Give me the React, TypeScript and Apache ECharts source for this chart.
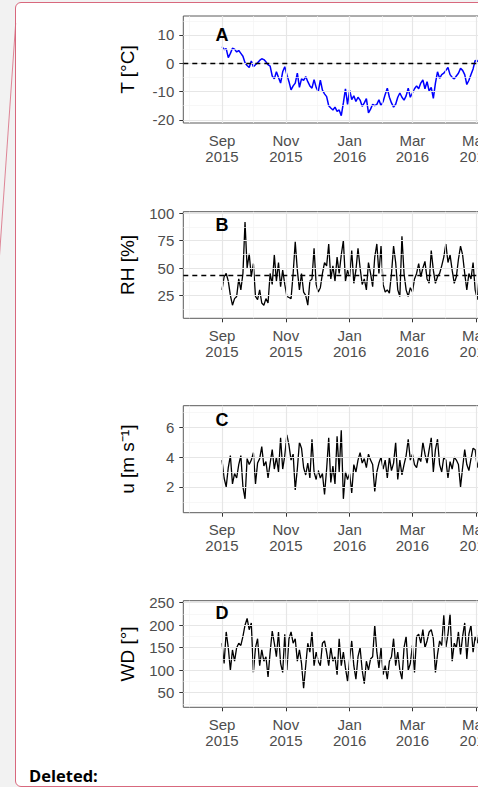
import React, { useEffect, useRef } from 'react';
import * as echarts from 'echarts';

// ---------- data (daily series sampled every 2 days from 1 Sep 2015) ----------
const START = Date.UTC(2015, 8, 1);
const STEP_DAYS = 2;
const DAY = 86400000;

const X_MIN = Date.UTC(2015, 6, 26);
const X_MAX = Date.UTC(2016, 5, 15);
const MAJOR_X = [Date.UTC(2015, 8, 1), Date.UTC(2015, 10, 1), Date.UTC(2016, 0, 1), Date.UTC(2016, 2, 1), Date.UTC(2016, 4, 1)];
const MINOR_X = [Date.UTC(2015, 7, 1), Date.UTC(2015, 9, 1), Date.UTC(2015, 11, 1), Date.UTC(2016, 1, 1), Date.UTC(2016, 3, 1), Date.UTC(2016, 5, 1)];
const MONTHS = ['Jan', 'Feb', 'Mar', 'Apr', 'May', 'Jun', 'Jul', 'Aug', 'Sep', 'Oct', 'Nov', 'Dec'];

const TEMP = [
  5.9, 4.8, 5.2, 2.0, 3.5, 5.3, 5.0, 4.0, 4.5, 3.5,
  2.5, 0.2, -0.8, -1.5, 0.8, -1.2, -0.5, 0.2, 1.0, 1.6,
  1.3, 0.5, -0.5, -1.0, -4.5, -5.5, -3.0, -5.0, -7.0, -3.0,
  -1.2, -4.0, -6.5, -9.4, -8.0, -7.0, -3.5, -8.5, -5.5, -6.0,
  -4.7, -6.5, -8.0, -8.8, -5.8, -8.5, -10.0, -6.0, -9.5, -10.8,
  -11.8, -15.0, -15.8, -16.5, -15.5, -17.0, -16.5, -18.5, -14.0, -9.0,
  -14.5, -9.5, -12.8, -11.5, -13.5, -12.0, -13.0, -15.2, -14.0, -12.5,
  -17.5, -16.2, -14.5, -15.0, -14.5, -12.9, -15.0, -13.5, -11.0, -8.8,
  -12.0, -14.0, -15.5, -14.5, -12.0, -10.5, -12.0, -13.0, -11.5, -8.8,
  -12.0, -10.5, -9.0, -8.0, -9.0, -7.0, -5.9, -9.0, -6.5, -9.8,
  -8.5, -12.4, -7.0, -3.0, -5.3, -4.0, -3.5, -2.5, -1.5, -4.0,
  -5.0, -5.5, -4.5, -3.5, -1.8, -2.5, -4.0, -7.5, -6.0, -4.0,
  -2.0, 1.0, 0.6, 1.5, 2.8, 4.7, 6.5, 8.0, 7.5,
];

const RH = [
  30, 42, 45, 38, 25, 16, 22, 24, 40, 30,
  45, 92, 50, 63, 42, 54, 24, 21, 30, 18,
  16, 22, 18, 45, 35, 62, 38, 55, 33, 48,
  35, 24, 23, 22, 45, 74, 48, 30, 45, 28,
  25, 16, 38, 40, 68, 35, 28, 32, 45, 55,
  52, 72, 40, 52, 38, 60, 45, 62, 75, 38,
  48, 42, 66, 36, 48, 68, 50, 35, 40, 30,
  55, 45, 33, 60, 72, 45, 70, 35, 28, 30,
  27, 45, 70, 55, 30, 24, 79, 45, 30, 24,
  32, 28, 40, 45, 54, 42, 50, 56, 40, 36,
  66, 48, 36, 42, 45, 52, 60, 72, 55, 62,
  48, 36, 42, 58, 70, 62, 45, 30, 45, 40,
  55, 30, 21, 45, 52, 32, 40, 28, 35,
];

const WIND = [
  3.8, 2.6, 2.0, 3.3, 4.1, 2.2, 2.9, 2.6, 3.5, 4.1,
  2.0, 1.2, 3.9, 3.5, 3.8, 4.3, 2.2, 3.6, 3.9, 4.7,
  3.4, 3.7, 2.6, 3.6, 4.5, 3.2, 4.0, 3.0, 5.3, 3.2,
  4.1, 5.5, 4.8, 3.8, 4.2, 1.8, 3.2, 5.0, 4.6, 3.3,
  2.8, 3.6, 2.6, 5.2, 3.0, 2.5, 3.1, 2.6, 2.9, 1.5,
  3.2, 5.3, 2.3, 3.4, 2.2, 5.4, 3.0, 5.8, 1.2, 3.0,
  2.5, 2.9, 1.6, 3.5, 3.0, 3.8, 4.3, 3.6, 3.9, 3.3,
  4.2, 3.8, 3.5, 1.7, 3.0, 3.6, 4.0, 3.2, 3.8, 2.6,
  4.0, 3.1, 3.6, 5.0, 2.5, 3.8, 2.8, 3.5, 4.1, 5.2,
  3.8, 4.2, 3.5, 3.3, 4.0, 3.7, 5.0, 4.2, 3.6, 4.5,
  5.3, 3.0, 4.5, 5.2, 3.5, 3.0, 4.0, 3.8, 2.6, 3.7,
  3.2, 4.0, 3.8, 3.5, 2.0, 3.3, 4.5, 3.5, 3.1, 3.9,
  4.6, 4.5, 3.3, 3.9, 3.0, 3.6, 3.2, 4.0, 3.4,
];

const WDIR = [
  160, 115, 185, 150, 100, 145, 120, 150, 160, 155,
  175, 200, 215, 190, 205, 95, 150, 170, 110, 145,
  120, 130, 85, 140, 187, 160, 130, 185, 115, 95,
  180, 100, 170, 185, 160, 170, 120, 145, 115, 60,
  110, 160, 140, 185, 110, 140, 120, 110, 160, 165,
  140, 110, 150, 120, 130, 90, 170, 110, 140, 105,
  75, 125, 165, 110, 80, 130, 150, 100, 70, 120,
  100, 125, 130, 200, 140, 105, 150, 90, 110, 80,
  120, 130, 170, 110, 140, 100, 80, 150, 175, 100,
  115, 155, 95, 175, 180, 160, 190, 150, 165, 185,
  190, 170, 95, 135, 165, 155, 222, 150, 180, 225,
  120, 160, 150, 185, 135, 175, 205, 125, 180, 200,
  140, 175, 160, 190, 135, 170, 150, 180, 140,
];

const T_TICKS = [-20, -10, 0, 10];
const T_MINOR = [-15, -5, 5, 15];
const RH_TICKS = [25, 50, 75, 100];
const RH_MINOR = [12.5, 37.5, 62.5, 87.5];
const U_TICKS = [2, 4, 6];
const U_MINOR = [1, 3, 5, 7];
const WD_TICKS = [50, 100, 150, 200, 250];
const WD_MINOR = [25, 75, 125, 175, 225];

const T_REF = 0;
const RH_REF = 43.5;
const PANEL_LETTERS = ['A', 'B', 'C', 'D'];
const PANEL_LABEL_Y = [10, 89, 6.5, 228];

const FONT = '"Liberation Sans", Arial, sans-serif';

const PANELS = [
  { top: 16, height: 107, min: -21.1, max: 16.7, ticks: T_TICKS, minor: T_MINOR, values: TEMP, color: '#0000ff', lw: 1.5, name: 'T [°C]', ref: T_REF },
  { top: 211.7, height: 106.6, min: 4, max: 101.5, ticks: RH_TICKS, minor: RH_MINOR, values: RH, color: '#000000', lw: 1.3, name: 'RH [%]', ref: RH_REF },
  { top: 405.7, height: 107, min: 0.27, max: 7.45, ticks: U_TICKS, minor: U_MINOR, values: WIND, color: '#000000', lw: 1.3, name: 'u [m s⁻¹]', ref: null },
  { top: 600.7, height: 106.6, min: 17.6, max: 254.4, ticks: WD_TICKS, minor: WD_MINOR, values: WDIR, color: '#000000', lw: 1.3, name: 'WD [°]', ref: null },
];

function buildOption() {
  const grid: any[] = [];
  const xAxis: any[] = [];
  const yAxis: any[] = [];
  const series: any[] = [];

  PANELS.forEach((p, i) => {
    grid.push({
      left: 183.3, top: p.top, width: 340, height: p.height,
      show: true, backgroundColor: '#ffffff', borderColor: '#5a5a5a', borderWidth: 1,
    });
    xAxis.push({
      type: 'value', gridIndex: i, min: X_MIN, max: X_MAX, scale: true,
      axisLine: { show: false },
      splitLine: { show: false },
      axisTick: { show: true, length: 4, customValues: MAJOR_X, lineStyle: { color: '#333333', width: 1 } },
      axisLabel: {
        customValues: MAJOR_X,
        margin: 9,
        color: '#4d4d4d', fontSize: 15, lineHeight: 16, fontFamily: FONT,
        formatter: (v: number) => {
          const d = new Date(v);
          return MONTHS[d.getUTCMonth()] + '\n' + d.getUTCFullYear();
        },
      },
    });
    yAxis.push({
      type: 'value', gridIndex: i, min: p.min, max: p.max,
      name: p.name, nameLocation: 'middle', nameGap: 46,
      nameTextStyle: { color: '#000000', fontSize: 19, fontFamily: FONT },
      axisLine: { show: false },
      splitLine: { show: false },
      axisTick: { show: true, length: 4, customValues: p.ticks, lineStyle: { color: '#333333', width: 1 } },
      axisLabel: { customValues: p.ticks, margin: 9, color: '#4d4d4d', fontSize: 15, fontFamily: FONT },
    });

    const gridLines = [
      ...p.minor.map((v) => ({ yAxis: v, lineStyle: { color: '#f3f3f3', width: 0.7, type: 'solid' } })),
      ...MINOR_X.map((v) => ({ xAxis: v, lineStyle: { color: '#f3f3f3', width: 0.7, type: 'solid' } })),
      ...p.ticks.map((v) => ({ yAxis: v, lineStyle: { color: '#e6e6e6', width: 1.2, type: 'solid' } })),
      ...MAJOR_X.map((v) => ({ xAxis: v, lineStyle: { color: '#e6e6e6', width: 1.2, type: 'solid' } })),
    ];
    series.push({
      type: 'line', xAxisIndex: i, yAxisIndex: i, z: 1, silent: true,
      data: [[X_MIN, p.min], [X_MAX, p.min]],
      showSymbol: false, lineStyle: { opacity: 0 },
      markLine: { silent: true, symbol: ['none', 'none'], label: { show: false }, emphasis: { disabled: true }, data: gridLines },
    });

    const s: any = {
      type: 'line', xAxisIndex: i, yAxisIndex: i, z: 3,
      data: p.values.map((v, k) => [START + k * STEP_DAYS * DAY, v]),
      showSymbol: false, symbol: 'none',
      lineStyle: { color: p.color, width: p.lw },
      emphasis: { disabled: true },
    };
    if (p.ref !== null) {
      s.markLine = {
        silent: true, symbol: ['none', 'none'], label: { show: false }, emphasis: { disabled: true },
        data: [{ yAxis: p.ref }],
        lineStyle: { color: '#000000', width: 1.4, type: [5, 4] },
      };
    }
    series.push(s);
  });

  return {
    animation: false,
    backgroundColor: 'transparent',
    grid, xAxis, yAxis, series,
  };
}

export default function App() {
  const ref = useRef<HTMLDivElement>(null);
  useEffect(() => {
    if (!ref.current) return;
    const chart = echarts.init(ref.current, null, { renderer: 'svg' });
    chart.setOption(buildOption() as any);

    // panel letters placed through each panel's own scales
    const letters = PANEL_LETTERS.map((letter, i) => {
      const pt = chart.convertToPixel({ gridIndex: i } as any, [START, PANEL_LABEL_Y[i]]) as number[];
      return {
        type: 'text', silent: true, z: 10, x: pt[0], y: pt[1],
        style: {
          text: letter, fill: '#000000', align: 'center', verticalAlign: 'middle',
          font: 'bold 18px "Liberation Sans", Arial, sans-serif',
        },
      };
    });

    chart.setOption({
      graphic: {
        elements: [
          {
            type: 'line', silent: true,
            shape: { x1: 15.7, y1: 23, x2: -1.5, y2: 270 },
            style: { stroke: '#d8687d', lineWidth: 0.8 },
          },
          {
            type: 'text', left: 29, top: 767, silent: true,
            style: { text: 'Deleted:', fill: '#000000', font: 'bold 16.5px "Open Sans", "Noto Sans", sans-serif' },
          },
          ...letters,
        ],
      },
    } as any);
    return () => chart.dispose();
  }, []);
  return (
    <div style={{ position: 'fixed', left: 0, top: 0, width: 478, height: 787, overflow: 'hidden', background: '#f2f2f2' }}>
      <div style={{
        position: 'absolute', left: 15, top: 2, width: 700, height: 783,
        border: '1.5px solid #d8687d', borderRadius: 6, background: '#ffffff',
      }} />
      <div ref={ref} style={{ position: 'absolute', left: 0, top: 0, width: 530, height: 787 }} />
    </div>
  );
}
